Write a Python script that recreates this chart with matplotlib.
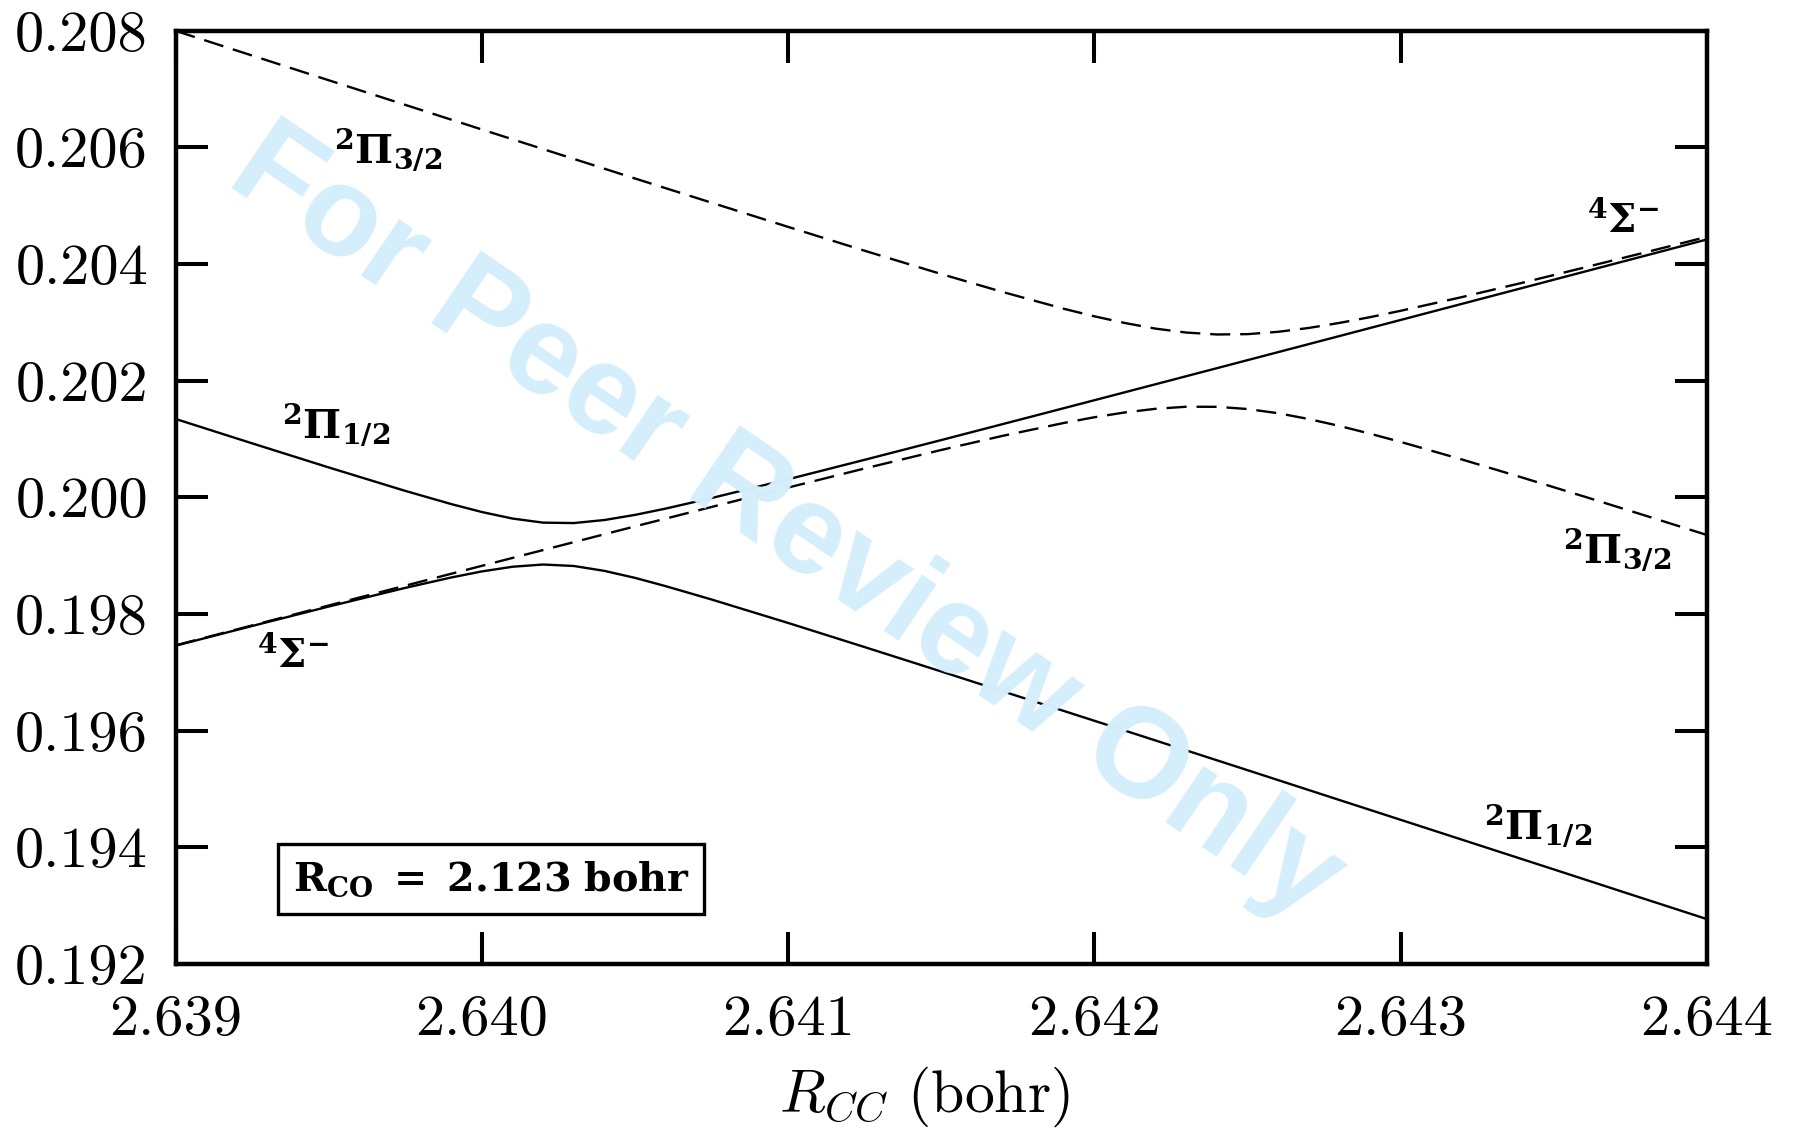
import matplotlib
matplotlib.use("Agg")
import matplotlib.pyplot as plt

plt.rcParams["mathtext.fontset"] = "cm"
plt.rcParams["font.family"] = "serif"
plt.rcParams["font.serif"] = ["cmr10", "DejaVu Serif"]
plt.rcParams["axes.unicode_minus"] = False

# Omega = 1/2 adiabatic pair (solid): 2Pi_1/2 / 4Sigma- avoided crossing
r_half = [2.63900, 2.63925, 2.63950, 2.63975, 2.63990, 2.64000, 2.64010,
          2.64020, 2.64030, 2.64040, 2.64050, 2.64060, 2.64075, 2.64100,
          2.64125, 2.64150, 2.64175, 2.64200, 2.64225, 2.64250, 2.64275,
          2.64300, 2.64325, 2.64350, 2.64375, 2.64400]
e_half_upper = [0.201343, 0.200925, 0.200512, 0.200110, 0.199884, 0.199748,
                0.199636, 0.199566, 0.199559, 0.199611, 0.199699, 0.199807,
                0.199988, 0.200310, 0.200644, 0.200982, 0.201323, 0.201665,
                0.202008, 0.202352, 0.202696, 0.203041, 0.203386, 0.203731,
                0.204076, 0.204421]
e_half_lower = [0.197457, 0.197795, 0.198128, 0.198448, 0.198626, 0.198730,
                0.198810, 0.198848, 0.198823, 0.198739, 0.198619, 0.198477,
                0.198248, 0.197846, 0.197432, 0.197014, 0.196591, 0.196169,
                0.195746, 0.195322, 0.194896, 0.194471, 0.194046, 0.193621,
                0.193194, 0.192769]

# Omega = 3/2 adiabatic pair (dashed): 2Pi_3/2 / 4Sigma- avoided crossing
r_three = [2.6390, 2.6395, 2.6400, 2.6405, 2.6410, 2.64125, 2.6415, 2.6417,
           2.6419, 2.6420, 2.6421, 2.6422, 2.6423, 2.6424, 2.6425, 2.6426,
           2.6427, 2.6428, 2.6429, 2.6430, 2.6432, 2.6434, 2.6436, 2.6438,
           2.6440]
e_three_upper = [0.207997, 0.207150, 0.206306, 0.205466, 0.204636, 0.204227,
                 0.203828, 0.203521, 0.203233, 0.203103, 0.202988, 0.202892,
                 0.202825, 0.202792, 0.202798, 0.202838, 0.202904, 0.202990,
                 0.203089, 0.203198, 0.203433, 0.203682, 0.203940, 0.204201,
                 0.204466]
e_three_lower = [0.197463, 0.198146, 0.198826, 0.199502, 0.200168, 0.200495,
                 0.200812, 0.201054, 0.201275, 0.201373, 0.201456, 0.201518,
                 0.201553, 0.201552, 0.201514, 0.201442, 0.201342, 0.201224,
                 0.201091, 0.200950, 0.200649, 0.200334, 0.200012, 0.199685,
                 0.199354]

x_ticks = [2.639, 2.640, 2.641, 2.642, 2.643, 2.644]
x_tick_labels = ["2.639", "2.640", "2.641", "2.642", "2.643", "2.644"]
y_ticks = [0.192, 0.194, 0.196, 0.198, 0.200, 0.202, 0.204, 0.206, 0.208]
y_tick_labels = ["0.192", "0.194", "0.196", "0.198", "0.200", "0.202",
                 "0.204", "0.206", "0.208"]

fig = plt.figure(figsize=(18, 11.33), dpi=100)
ax = fig.add_axes([0.0976, 0.1492, 0.8507, 0.8237])

# faint diagonal stamp behind the curves
fig.text(0.4367, 0.537, "For Peer Review Only", color="#d5eefb",
         fontsize=92, fontweight="bold", family="Liberation Sans",
         rotation=-34.2, rotation_mode="anchor", ha="center", va="center",
         zorder=0)
ax.set_facecolor("none")

lw = 1.7
dash = (0, (8.5, 4.2))
ax.plot(r_half, e_half_upper, color="black", lw=lw, zorder=3)
ax.plot(r_half, e_half_lower, color="black", lw=lw, zorder=3)
ax.plot(r_three, e_three_upper, color="black", lw=lw, ls=dash, zorder=3)
ax.plot(r_three, e_three_lower, color="black", lw=lw, ls=dash, zorder=3)

ax.set_xlim(2.639, 2.644)
ax.set_ylim(0.192, 0.208)
ax.set_xticks(x_ticks)
ax.set_xticklabels(x_tick_labels)
ax.set_yticks(y_ticks)
ax.set_yticklabels(y_tick_labels)
ax.tick_params(direction="in", length=23, width=2.9, labelsize=42,
               top=True, right=True, pad=20)
ax.tick_params(axis="x", pad=22)
for sp in ax.spines.values():
    sp.set_linewidth(3.2)

ax.set_xlabel(r"$R_{CC}$ (bohr)", fontsize=43)
ax.xaxis.set_label_coords(0.489, -0.108)

state_kw = dict(transform=ax.transAxes, fontsize=29, ha="center",
                va="center", math_fontfamily="dejavuserif", zorder=4)
ax.text(0.1386, 0.8721, r"$\mathbf{{}^{2}\Pi_{3/2}}$", **state_kw)
ax.text(0.1047, 0.5775, r"$\mathbf{{}^{2}\Pi_{1/2}}$", **state_kw)
ax.text(0.0767, 0.3311, r"$\mathbf{{}^{4}\Sigma^{-}}$", **state_kw)
ax.text(0.9452, 0.7972, r"$\mathbf{{}^{4}\Sigma^{-}}$", **state_kw)
ax.text(0.9413, 0.4436, r"$\mathbf{{}^{2}\Pi_{3/2}}$", **state_kw)
ax.text(0.8897, 0.1479, r"$\mathbf{{}^{2}\Pi_{1/2}}$", **state_kw)

ax.text(0.206, 0.0911, r"$\mathbf{R_{CO}\ =\ 2.123\ bohr}$",
        transform=ax.transAxes, fontsize=28.5, ha="center", va="center",
        math_fontfamily="dejavuserif", zorder=4,
        bbox=dict(boxstyle="square,pad=0.38", facecolor="white",
                  edgecolor="black", linewidth=2.4))

fig.savefig("out.png", dpi=100)
